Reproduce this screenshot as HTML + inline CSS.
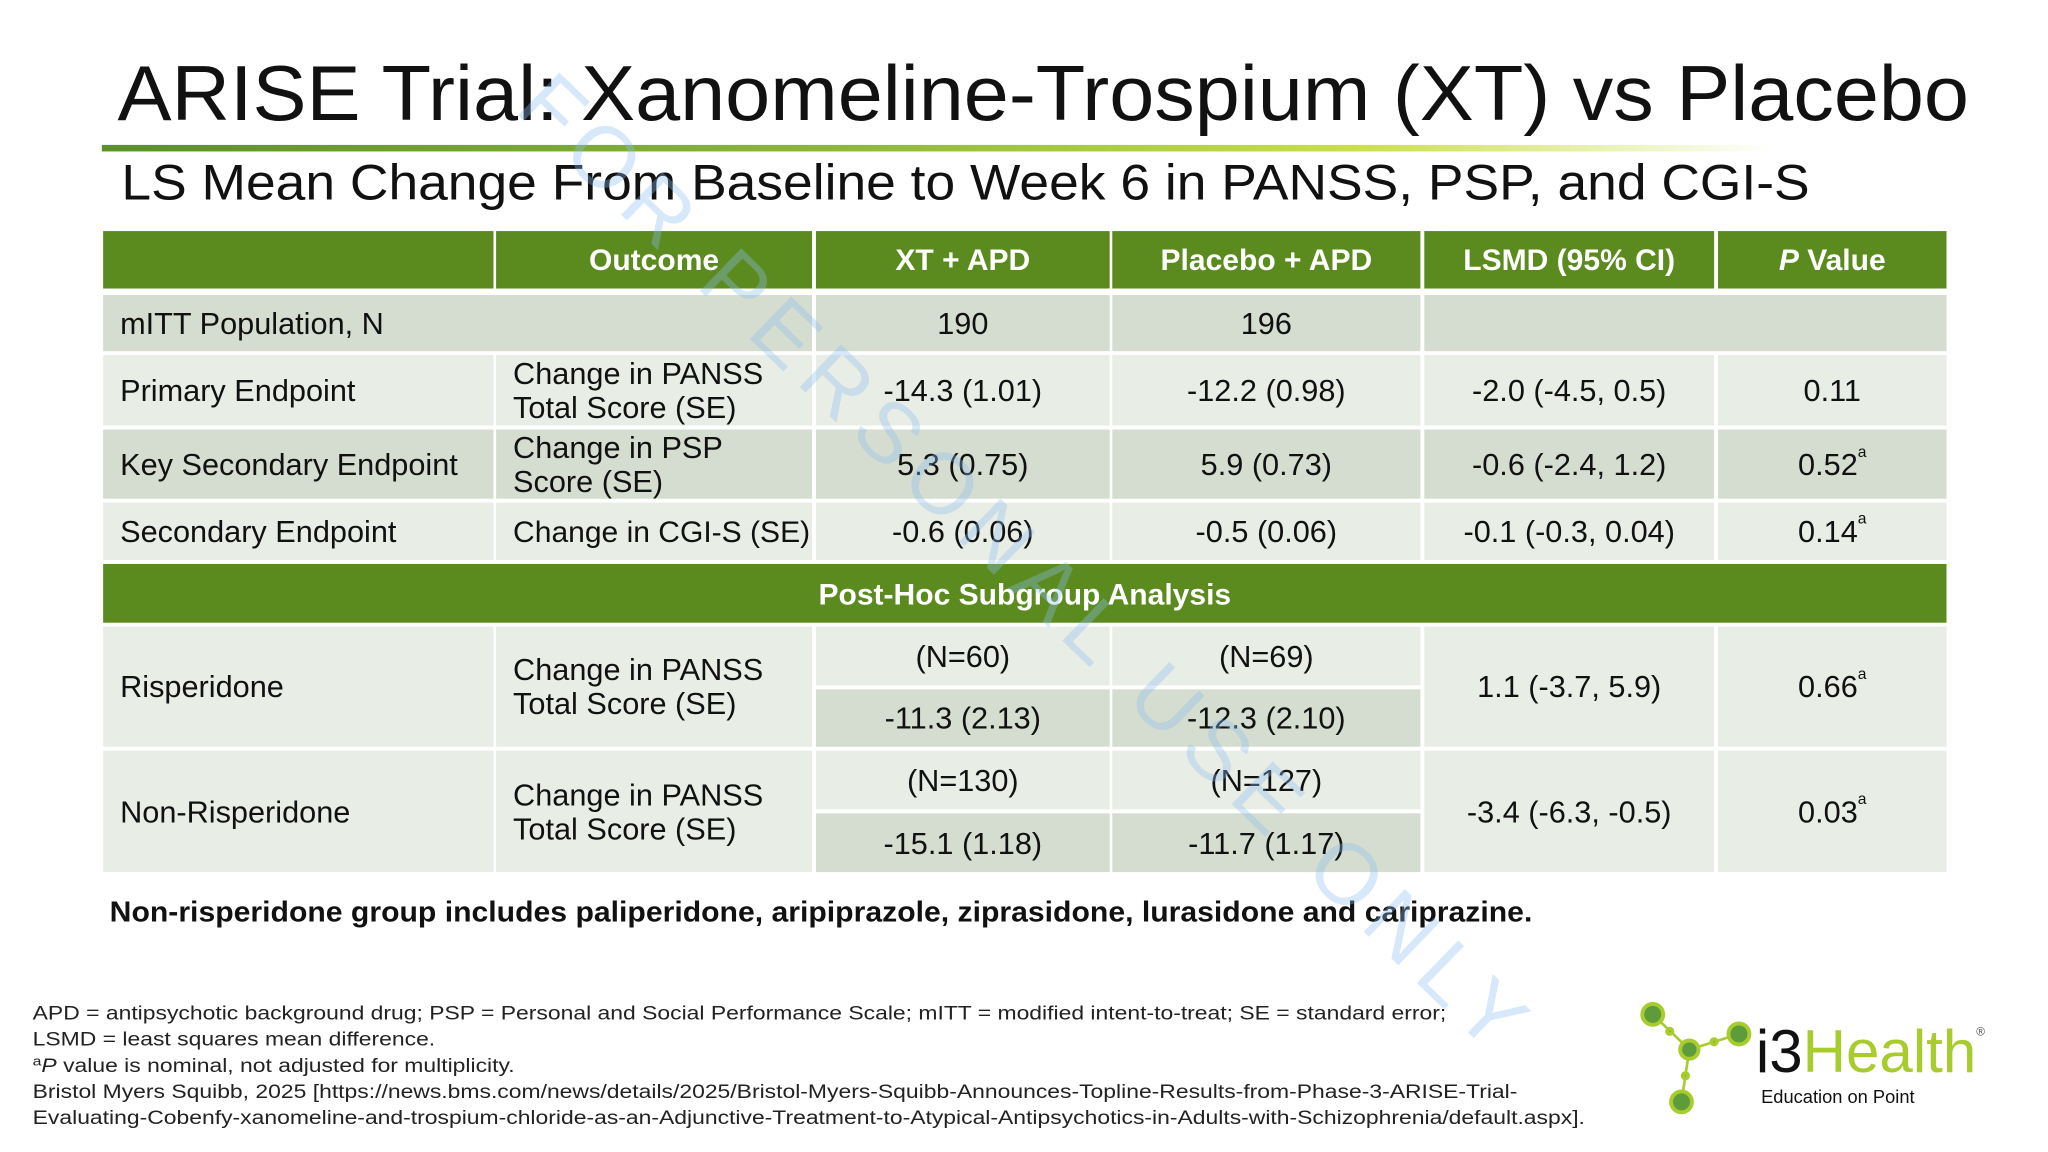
<!DOCTYPE html>
<html><head><meta charset="utf-8"><style>
html,body{margin:0;padding:0;background:#fff;overflow:hidden}
#stage{position:absolute;left:0;top:0;width:1552px;height:873px;transform:scale(1.3055);transform-origin:0 0;font-family:"Liberation Sans Narrow","Liberation Sans",sans-serif;color:#111}
.abs{position:absolute}
.c{position:absolute;display:flex;align-items:center;justify-content:center;text-align:center;font-size:23.5px;line-height:26px;box-sizing:border-box;white-space:nowrap}
.l{justify-content:flex-start;text-align:left;padding-left:13px}
.h{background:#5b8a1e;color:#fff;font-weight:bold;font-size:23px}
.d{background:#d5ddd0}
.g{background:#e8ede6}
sup{font-size:12px;position:relative;top:-10px;line-height:0}
</style></head><body>
<div id="stage">
<div class="abs" style="left:90px;top:37px;font-size:60px;font-family:'Liberation Sans',sans-serif;white-space:nowrap;transform:scaleX(1.034);transform-origin:0 0">ARISE Trial: Xanomeline-Trospium (XT) vs Placebo</div>
<div class="abs" style="left:78px;top:111px;width:1280px;height:5px;background:linear-gradient(90deg,#5a8f2a 0%,#8db83a 45%,#c9df4a 75%,rgba(220,235,150,0) 100%)"></div>
<div class="abs" style="left:93px;top:120px;font-size:38px;font-family:'Liberation Sans',sans-serif;white-space:nowrap;transform:scaleX(1.076);transform-origin:0 0">LS Mean Change From Baseline to Week 6 in PANSS, PSP, and CGI-S</div>

<div>
<div class="c h" style="left:79px;top:177px;width:299px;height:44px"></div>
<div class="c h" style="left:380px;top:177px;width:242px;height:44px">Outcome</div>
<div class="c h" style="left:625px;top:177px;width:225px;height:44px">XT + APD</div>
<div class="c h" style="left:852px;top:177px;width:236px;height:44px">Placebo + APD</div>
<div class="c h" style="left:1091px;top:177px;width:222px;height:44px">LSMD (95% CI)</div>
<div class="c h" style="left:1316px;top:177px;width:175px;height:44px"><i>P</i>&nbsp;Value</div>
<div class="c d l" style="left:79px;top:226px;width:543px;height:43px">mITT Population, N</div>
<div class="c d" style="left:625px;top:226px;width:225px;height:43px">190</div>
<div class="c d" style="left:852px;top:226px;width:236px;height:43px">196</div>
<div class="c d" style="left:1091px;top:226px;width:400px;height:43px"></div>
<div class="c g l" style="left:79px;top:272px;width:299px;height:54px">Primary Endpoint</div>
<div class="c g l" style="left:380px;top:272px;width:242px;height:54px">Change in PANSS<br>Total Score (SE)</div>
<div class="c g" style="left:625px;top:272px;width:225px;height:54px">-14.3 (1.01)</div>
<div class="c g" style="left:852px;top:272px;width:236px;height:54px">-12.2 (0.98)</div>
<div class="c g" style="left:1091px;top:272px;width:222px;height:54px">-2.0 (-4.5, 0.5)</div>
<div class="c g" style="left:1316px;top:272px;width:175px;height:54px">0.11</div>
<div class="c d l" style="left:79px;top:329px;width:299px;height:53px">Key Secondary Endpoint</div>
<div class="c d l" style="left:380px;top:329px;width:242px;height:53px">Change in PSP<br>Score (SE)</div>
<div class="c d" style="left:625px;top:329px;width:225px;height:53px">5.3 (0.75)</div>
<div class="c d" style="left:852px;top:329px;width:236px;height:53px">5.9 (0.73)</div>
<div class="c d" style="left:1091px;top:329px;width:222px;height:53px">-0.6 (-2.4, 1.2)</div>
<div class="c d" style="left:1316px;top:329px;width:175px;height:53px">0.52<sup>a</sup></div>
<div class="c g l" style="left:79px;top:385px;width:299px;height:44px">Secondary Endpoint</div>
<div class="c g l" style="left:380px;top:385px;width:242px;height:44px;font-size:23px">Change in CGI-S (SE)</div>
<div class="c g" style="left:625px;top:385px;width:225px;height:44px">-0.6 (0.06)</div>
<div class="c g" style="left:852px;top:385px;width:236px;height:44px">-0.5 (0.06)</div>
<div class="c g" style="left:1091px;top:385px;width:222px;height:44px">-0.1 (-0.3, 0.04)</div>
<div class="c g" style="left:1316px;top:385px;width:175px;height:44px">0.14<sup>a</sup></div>
<div class="c h" style="left:79px;top:432px;width:1412px;height:45px">Post-Hoc Subgroup Analysis</div>
<div class="c g l" style="left:79px;top:480px;width:299px;height:92px">Risperidone</div>
<div class="c g l" style="left:380px;top:480px;width:242px;height:92px">Change in PANSS<br>Total Score (SE)</div>
<div class="c g" style="left:625px;top:480px;width:225px;height:45px">(N=60)</div>
<div class="c g" style="left:852px;top:480px;width:236px;height:45px">(N=69)</div>
<div class="c d" style="left:625px;top:528px;width:225px;height:44px">-11.3 (2.13)</div>
<div class="c d" style="left:852px;top:528px;width:236px;height:44px">-12.3 (2.10)</div>
<div class="c g" style="left:1091px;top:480px;width:222px;height:92px">1.1 (-3.7, 5.9)</div>
<div class="c g" style="left:1316px;top:480px;width:175px;height:92px">0.66<sup>a</sup></div>
<div class="c g l" style="left:79px;top:575px;width:299px;height:93px">Non-Risperidone</div>
<div class="c g l" style="left:380px;top:575px;width:242px;height:93px">Change in PANSS<br>Total Score (SE)</div>
<div class="c g" style="left:625px;top:575px;width:225px;height:45px">(N=130)</div>
<div class="c g" style="left:852px;top:575px;width:236px;height:45px">(N=127)</div>
<div class="c d" style="left:625px;top:623px;width:225px;height:45px">-15.1 (1.18)</div>
<div class="c d" style="left:852px;top:623px;width:236px;height:45px">-11.7 (1.17)</div>
<div class="c g" style="left:1091px;top:575px;width:222px;height:93px">-3.4 (-6.3, -0.5)</div>
<div class="c g" style="left:1316px;top:575px;width:175px;height:93px">0.03<sup>a</sup></div>
</div>

<div class="abs" style="left:84px;top:686px;font-size:22px;font-weight:bold;white-space:nowrap;transform:scaleX(1.05);transform-origin:0 0">Non-risperidone group includes paliperidone, aripiprazole, ziprasidone, lurasidone and cariprazine.</div>

<div class="abs" style="left:25px;top:768px;font-size:14.5px;line-height:19.8px;white-space:nowrap;color:#222;transform:scaleX(1.21);transform-origin:0 0">
APD = antipsychotic background drug; PSP = Personal and Social Performance Scale; mITT = modified intent-to-treat; SE = standard error;<br>
LSMD = least squares mean difference.<br>
<span style="font-size:10px;position:relative;top:-5px">a</span><i>P</i> value is nominal, not adjusted for multiplicity.<br>
Bristol Myers Squibb, 2025 [https://news.bms.com/news/details/2025/Bristol-Myers-Squibb-Announces-Topline-Results-from-Phase-3-ARISE-Trial-<br>
Evaluating-Cobenfy-xanomeline-and-trospium-chloride-as-an-Adjunctive-Treatment-to-Atypical-Antipsychotics-in-Adults-with-Schizophrenia/default.aspx].
</div>

<svg class="abs" style="left:1252px;top:762px" width="100" height="95" viewBox="0 0 100 95">
<g stroke="#a8cc2e" stroke-width="2"><line x1="14" y1="15" x2="42" y2="42"/><line x1="42" y1="42" x2="80" y2="30"/><line x1="42" y1="42" x2="36" y2="82"/></g>
<g fill="#5e9b3a" stroke="#a8cc2e" stroke-width="3"><circle cx="14" cy="15" r="8"/><circle cx="80" cy="30" r="8"/><circle cx="42" cy="42" r="7"/><circle cx="36" cy="82" r="8"/><circle cx="27" cy="28" r="2"/><circle cx="61" cy="36" r="2"/><circle cx="39" cy="62" r="2"/></g>
</svg>
<div class="abs" style="left:1345px;top:782px;font-family:'Liberation Sans',sans-serif;font-size:46px;line-height:46px;white-space:nowrap"><span style="color:#111">i3</span><span style="color:#a8cc2e">Health</span><span style="font-size:9px;position:relative;top:-28px;color:#555">®</span></div>
<div class="abs" style="left:1349px;top:832px;font-family:'Liberation Sans',sans-serif;font-size:14px;white-space:nowrap">Education on Point</div>

<div class="abs" style="left:257px;top:395px;width:1060px;text-align:center;font-family:'Liberation Sans',sans-serif;font-size:66px;letter-spacing:9px;color:rgba(140,190,240,0.35);transform:rotate(44deg);transform-origin:50% 50%;white-space:nowrap">FOR PERSONAL USE ONLY</div>
</div>
</body></html>
